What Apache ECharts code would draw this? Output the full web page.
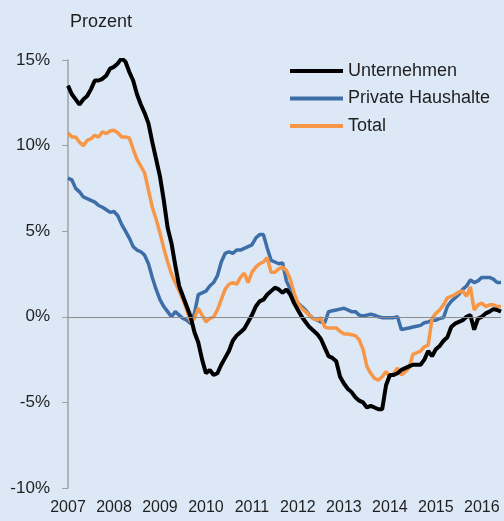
<!DOCTYPE html>
<html>
<head>
<meta charset="utf-8">
<script src="https://cdn.jsdelivr.net/npm/echarts@6/dist/echarts.min.js"></script>
<style>
  html, body { margin: 0; padding: 0; background: #dce8f6; }
  .chart { width: 504px; height: 521px; }
</style>
</head>
<body>
<div class="chart"></div>
<script>
// Jahre fuer die Beschriftung, Monatswerte ab Jan 2007
var years = ['2007', '2008', '2009', '2010', '2011', '2012', '2013', '2014', '2015', '2016'];
var seriesNames = ['Unternehmen', 'Private Haushalte', 'Total'];

var unternehmen = [
  13.5, 13.0, 12.7, 12.4, 12.7, 12.9, 13.3, 13.8, 13.8, 13.9, 14.1, 14.5,
  14.6, 14.8, 15.1, 14.9, 14.3, 13.8, 13.0, 12.4, 11.9, 11.3, 10.2, 9.2,
  8.2, 6.8, 5.2, 4.3, 3.0, 1.8, 1.2, 0.6, 0.0, -0.9, -1.5, -2.5,
  -3.3, -3.1, -3.4, -3.3, -2.8, -2.4, -2.0, -1.4, -1.1, -0.9, -0.7, -0.3,
  0.1, 0.6, 0.9, 1.0, 1.3, 1.5, 1.7, 1.6, 1.4, 1.6, 1.3, 0.8,
  0.4, 0.0, -0.3, -0.6, -0.8, -1.0, -1.3, -1.8, -2.3, -2.4, -2.6, -3.5,
  -3.9, -4.2, -4.4, -4.7, -4.9, -5.0, -5.3, -5.2, -5.3, -5.4, -5.4, -4.0,
  -3.4, -3.4, -3.3, -3.1, -3.0, -2.9, -2.8, -2.8, -2.8, -2.5, -2.0, -2.3,
  -1.9, -1.7, -1.4, -1.2, -0.6, -0.4, -0.3, -0.2, 0.0, 0.1, -0.75, -0.1,
  0.0, 0.2, 0.3, 0.45, 0.4, 0.3
];
var haushalte = [
  8.1, 8.0, 7.5, 7.3, 7.0, 6.9, 6.8, 6.7, 6.5, 6.4, 6.25, 6.1,
  6.15, 5.9, 5.4, 5.0, 4.6, 4.1, 3.9, 3.8, 3.6, 3.1, 2.3, 1.6,
  1.0, 0.6, 0.3, 0.0, 0.3, 0.1, -0.1, -0.2, -0.4, 0.2, 1.3, 1.4,
  1.5, 1.8, 2.0, 2.4, 3.2, 3.7, 3.8, 3.7, 3.9, 3.9, 4.0, 4.1,
  4.2, 4.6, 4.8, 4.8, 4.0, 3.3, 3.2, 3.1, 3.15, 2.1, 1.6, 1.1,
  0.8, 0.6, 0.4, 0.1, -0.1, -0.2, -0.3, -0.35, 0.3, 0.35, 0.4, 0.45,
  0.5, 0.4, 0.3, 0.3, 0.1, 0.05, 0.1, 0.15, 0.1, 0.0, -0.05, -0.05,
  -0.05, -0.05, 0.0, -0.75, -0.7, -0.65, -0.6, -0.55, -0.5, -0.35, -0.3, -0.2,
  -0.2, -0.1, -0.05, 0.6, 0.9, 1.1, 1.3, 1.6, 1.8, 2.15, 2.0, 2.1,
  2.3, 2.3, 2.3, 2.2, 2.0, 2.0
];
var total = [
  10.75, 10.5, 10.5, 10.2, 10.0, 10.3, 10.4, 10.6, 10.5, 10.8, 10.7, 10.85,
  10.9, 10.75, 10.5, 10.5, 10.45, 9.8, 9.2, 8.8, 8.4, 7.4, 6.4, 5.7,
  4.9, 4.0, 3.2, 2.5, 2.0, 1.5, 1.0, 0.4, -0.3, -0.1, 0.5, 0.1,
  -0.3, -0.1, 0.0, 0.4, 1.0, 1.6, 1.9, 2.0, 1.9, 2.3, 2.55, 2.0,
  2.6, 2.9, 3.1, 3.2, 3.45, 2.6, 2.6, 2.8, 2.9, 2.7, 2.2, 1.4,
  0.8, 0.5, 0.3, 0.1, -0.1, -0.2, -0.05, -0.6, -0.65, -0.65, -0.65, -0.85,
  -1.0, -1.0, -1.05, -1.1, -1.35, -1.9, -2.9, -3.3, -3.6, -3.7, -3.5, -3.2,
  -3.5, -3.3, -3.0, -3.4, -3.2, -3.0, -2.2, -2.1, -2.0, -1.75, -1.65, -0.1,
  0.2, 0.4, 0.7, 1.1, 1.2, 1.3, 1.45, 1.5, 1.2, 1.75, 0.4, 0.7,
  0.8, 0.6, 0.7, 0.7, 0.6, 0.6
];

// Monatskategorien aufbauen
var months = [];
for (var i = 0; i < unternehmen.length; i++) {
  var y = years[Math.floor(i / 12)];
  months.push(y + '-' + String(101 + (i % 12)).slice(1));
}

var fontName = '"Liberation Sans", Arial, sans-serif';
var textColor = '#1f1f1f';
var myChart = echarts.init(document.querySelector('.chart'), null, { renderer: 'canvas' });

myChart.setOption({
  backgroundColor: '#dce8f6',
  animation: false,
  textStyle: { fontFamily: fontName },
  title: {
    text: 'Prozent',
    left: 65,
    top: 8,
    textStyle: { fontSize: 18, fontWeight: 'normal', color: textColor, fontFamily: fontName }
  },
  legend: {
    orient: 'vertical',
    left: 285,
    top: 57,
    icon: 'rect',
    itemWidth: 53,
    itemHeight: 4,
    itemGap: 9.5,
    data: seriesNames,
    textStyle: { fontSize: 18, color: textColor }
  },
  grid: { left: 68, right: 3, top: 60, bottom: 33 },
  xAxis: {
    type: 'category',
    boundaryGap: false,
    data: months,
    axisLine: { show: false },
    axisTick: { show: false },
    splitLine: { show: false },
    axisLabel: {
      interval: function(index, value) { return index % 12 === 0; },
      formatter: function(value) { return value.slice(0, 4); },
      fontSize: 16,
      color: textColor,
      margin: 12
    }
  },
  yAxis: {
    type: 'value',
    min: -10,
    max: 15,
    interval: 5,
    axisLine: { show: true, lineStyle: { color: '#a0a0a0', width: 1.5 } },
    axisTick: { show: true, length: 6, lineStyle: { color: '#a0a0a0' } },
    splitLine: { show: false },
    axisLabel: {
      formatter: '{value}%',
      fontSize: 17,
      color: textColor,
      margin: 18
    }
  },
  series: [{
    name: seriesNames[0],
    type: 'line',
    data: unternehmen,
    showSymbol: false,
    z: 4,
    lineStyle: { color: '#000000', width: 4 },
    itemStyle: { color: '#000000' },
    markLine: {
      silent: true,
      symbol: 'none',
      label: { show: false },
      lineStyle: { color: '#8c8c8c', width: 1, type: 'solid' },
      data: [{ yAxis: 0 }]
    }
  }, {
    name: seriesNames[1],
    type: 'line',
    data: haushalte,
    showSymbol: false,
    z: 2,
    lineStyle: { color: '#3e6ea7', width: 3.5 },
    itemStyle: { color: '#3e6ea7' }
  }, {
    name: seriesNames[2],
    type: 'line',
    data: total,
    showSymbol: false,
    z: 3,
    lineStyle: { color: '#f79646', width: 3.5 },
    itemStyle: { color: '#f79646' }
  }]
});
</script>
</body>
</html>
